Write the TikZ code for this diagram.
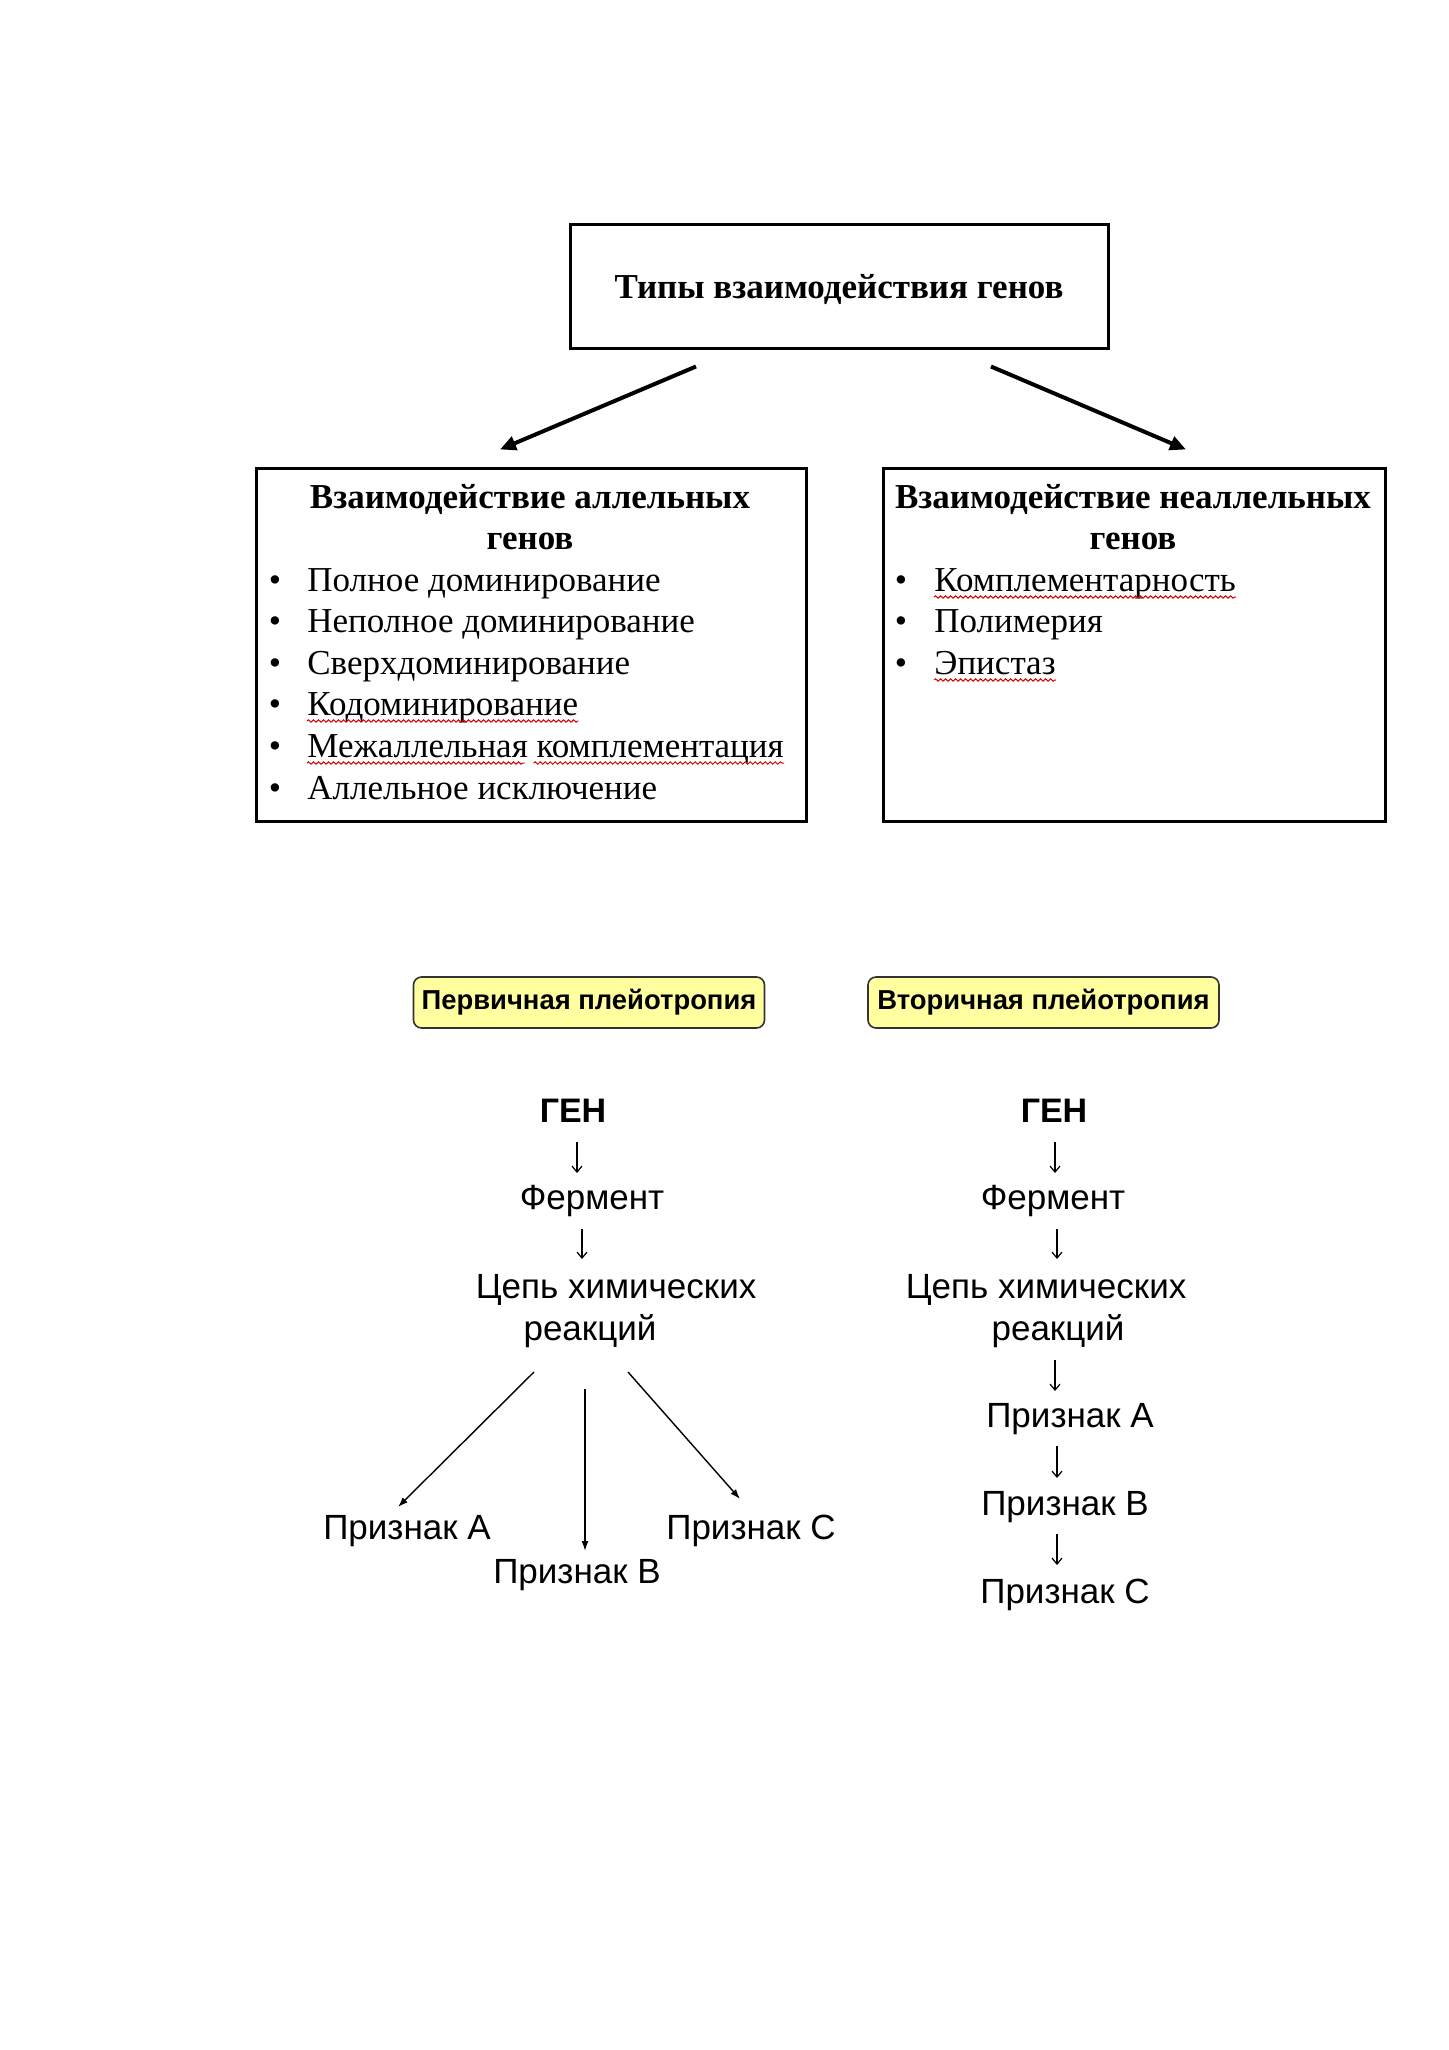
\documentclass[tikz,border=0pt]{standalone}
\usepackage{fontspec}
\setmainfont{Liberation Serif}
\setsansfont{Liberation Sans}
\usetikzlibrary{arrows.meta,calc,decorations.pathmorphing}
\definecolor{yellowpale}{HTML}{FFFFA0}
\begin{document}
\begin{tikzpicture}[x=0.5pt,y=-0.5pt,
  framebox/.style={draw,line width=1.5pt,inner sep=0pt},
  sertitle/.style={font=\fontsize{17.5}{21}\selectfont\bfseries,inner sep=0pt,anchor=base},
  bulnode/.style={font=\fontsize{17.5}{21}\selectfont,inner sep=0pt,anchor=base},
  itemnode/.style={font=\fontsize{17.5}{21}\selectfont,inner sep=0pt,anchor=base west},
  sansnode/.style={font=\sffamily\fontsize{17.5}{21}\selectfont,inner sep=0pt,anchor=base},
  sansbold/.style={font=\sffamily\bfseries\fontsize{17}{21}\selectfont,inner sep=0pt,anchor=base},
  tagbox/.style={draw=black!80,line width=0.8pt,fill=yellowpale,rounded corners=4pt,minimum width=175.5pt,minimum height=25.5pt,inner sep=0pt,font=\sffamily\bfseries\fontsize{13.7}{16}\selectfont},
  bigarrow/.style={line width=2pt,-{Triangle[length=8pt,width=7pt]}},
  diagarrow/.style={line width=0.7pt,-{Latex[length=5pt,width=3.5pt]}},
  smallarrow/.style={line width=0.6pt,-{Straight Barb[length=3pt,width=5pt]}},
  wavy/.style={draw=red!85!black,line width=0.5pt,decorate,decoration={snake,amplitude=0.6pt,segment length=2.5pt}}
]
\fill[white] (0,0) rectangle (1449,2050);
\useasboundingbox (0,0) rectangle (1449,2050);

% top part
\node[framebox,minimum width=269pt,minimum height=62pt] (top) at (839,286) {};
\node[sertitle] (toptitle) at (839,298) {Типы взаимодействия генов};
\node[framebox,minimum width=275pt,minimum height=176.5pt] (lbox) at (531,644.5) {};
\node[framebox,minimum width=251pt,minimum height=176.5pt] (rbox) at (1134,644.5) {};

\draw[bigarrow] ($(top.south)+(-143,17)$) -- ($(lbox.north)+(-31,-17)$);
\draw[bigarrow] ($(top.south)+(152,17)$) -- ($(rbox.north)+(52,-17)$);

\node[sertitle] (lt1) at (530,508) {Взаимодействие аллельных};
\node[sertitle] (lt2) at (530,549) {генов};
\node[sertitle] (rt1) at (1133,508) {Взаимодействие неаллельных};
\node[sertitle] (rt2) at (1133,549) {генов};

\foreach \y [count=\i] in {591,632.5,674,715,757,799} {
  \node[bulnode] (lb\i) at (275,\y) {•};
}
\node[itemnode] (it1) at (307,591) {Полное доминирование};
\node[itemnode] (it2) at (307,632.5) {Неполное доминирование};
\node[itemnode] (it3) at (307,674) {Сверхдоминирование};
\node[itemnode] (it4) at (307,715) {Кодоминирование};
\node[itemnode] (it5) at (307,757) {Межаллельная комплементация};
\node[itemnode] (it6) at (307,799) {Аллельное исключение};

\foreach \y [count=\i] in {591,632.5,674} {
  \node[bulnode] (rb\i) at (901,\y) {•};
}
\node[itemnode] (ri1) at (934,591) {Комплементарность};
\node[itemnode] (ri2) at (934,632.5) {Полимерия};
\node[itemnode] (ri3) at (934,674) {Эпистаз};

\draw[wavy] ($(it4.base west)+(0,6)$) -- ($(it4.base east)+(0,6)$);
\draw[wavy] ($(it5.base west)+(0,6)$) -- ($($(it5.base west)!0.456!(it5.base east)$)+(0,6)$);
\draw[wavy] ($($(it5.base west)!0.475!(it5.base east)$)+(0,6)$) -- ($(it5.base east)+(0,6)$);
\draw[wavy] ($(ri1.base west)+(0,6)$) -- ($(ri1.base east)+(0,6)$);
\draw[wavy] ($(ri3.base west)+(0,6)$) -- ($(ri3.base east)+(0,6)$);

% bottom part
\node[tagbox] (prim) at (589,1002.5) {\raisebox{-1.3pt}{Первичная плейотропия}};
\node[tagbox] (sec) at (1043.5,1002.5) {\raisebox{-1.3pt}{Вторичная плейотропия}};

% left column
\node[sansbold] (genL) at (573,1122) {ГЕН};
\node[sansnode] (fermL) at (592,1209) {Фермент};
\node[sansnode] (chL1) at (616,1298) {Цепь химических};
\node[sansnode] (chL2) at (590,1340) {реакций};
\node[sansnode] (prAL) at (407,1539) {Признак A};
\node[sansnode] (prBL) at (577,1583) {Признак B};
\node[sansnode] (prCL) at (751,1539) {Признак C};

\draw[smallarrow] ($(genL.base)+(4,20)$) -- ($(fermL.base)+(-15,-36)$);
\draw[smallarrow] ($(fermL.base)+(-10,20)$) -- ($(chL1.base)+(-34,-39)$);
\draw[diagarrow] ($(chL2.base)+(-56,32)$) -- ($(prAL.base)+(-9,-32)$);
\draw[diagarrow] ($(chL2.base)+(-5,49)$) -- ($(prBL.base)+(8,-32)$);
\draw[diagarrow] ($(chL2.base)+(38,32)$) -- ($(prCL.base)+(-11,-40)$);

% right column
\node[sansbold] (genR) at (1054,1122) {ГЕН};
\node[sansnode] (fermR) at (1053,1209) {Фермент};
\node[sansnode] (chR1) at (1046,1298) {Цепь химических};
\node[sansnode] (chR2) at (1058,1340) {реакций};
\node[sansnode] (prAR) at (1070,1427) {Признак A};
\node[sansnode] (prBR) at (1065,1515) {Признак B};
\node[sansnode] (prCR) at (1065,1603) {Признак C};

\draw[smallarrow] ($(genR.base)+(1,20)$) -- ($(fermR.base)+(2,-36)$);
\draw[smallarrow] ($(fermR.base)+(4,20)$) -- ($(chR1.base)+(11,-39)$);
\draw[smallarrow] ($(chR2.base)+(-3,20)$) -- ($(prAR.base)+(-15,-36)$);
\draw[smallarrow] ($(prAR.base)+(-13,19)$) -- ($(prBR.base)+(-8,-37)$);
\draw[smallarrow] ($(prBR.base)+(-8,19)$) -- ($(prCR.base)+(-8,-38)$);
\end{tikzpicture}
\end{document}
